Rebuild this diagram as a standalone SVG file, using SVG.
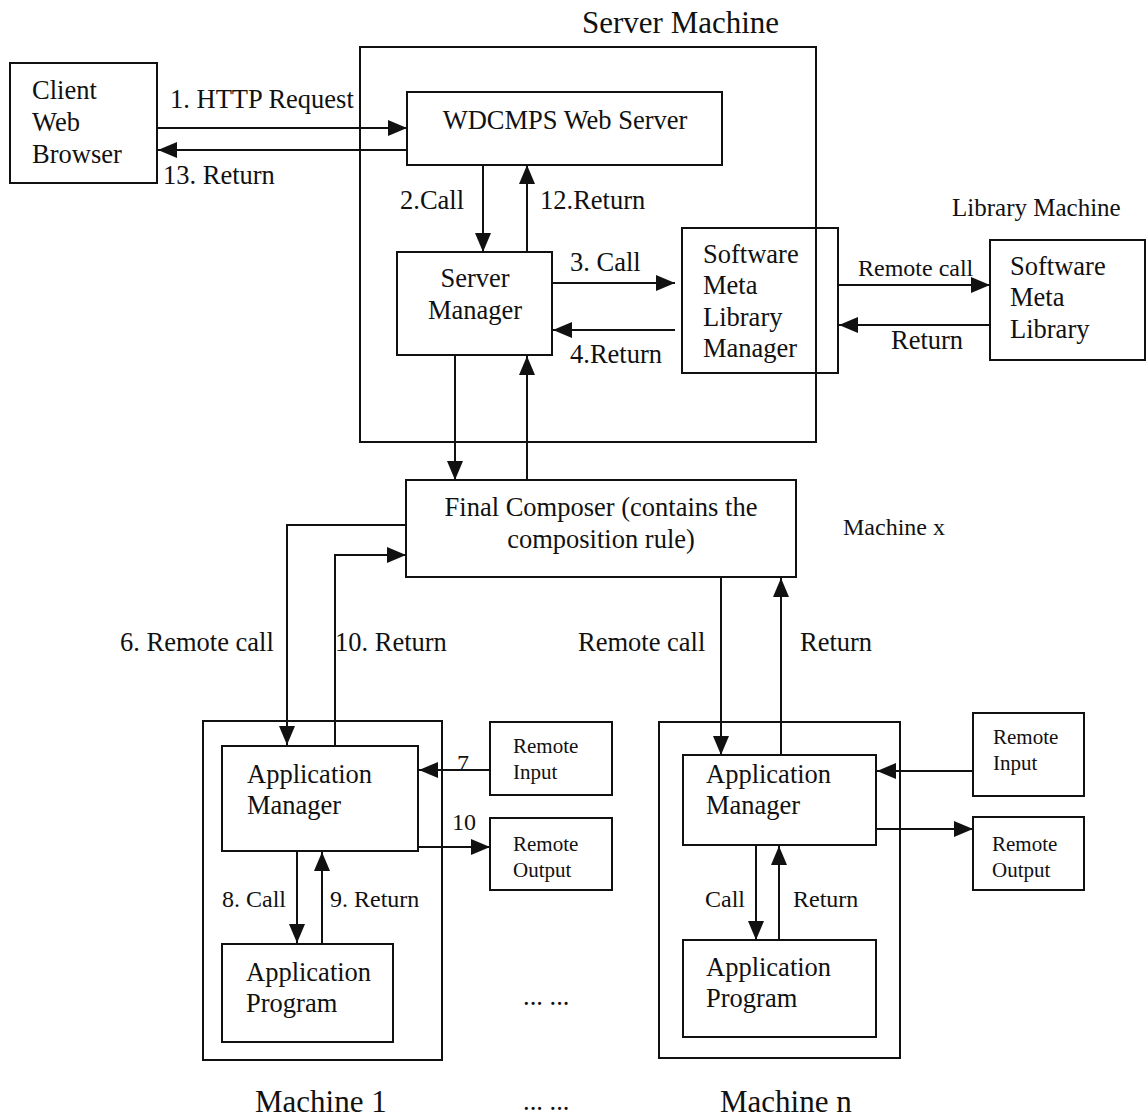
<svg xmlns="http://www.w3.org/2000/svg" width="1148" height="1120" viewBox="0 0 1148 1120">
<defs>
<style>
.box{fill:none;stroke:#111;stroke-width:2}
.c{fill:none;stroke:#111;stroke-width:2;marker-end:url(#ah)}
text{font-family:"Liberation Serif","Times New Roman",serif;fill:#111;font-size:26.5px}
.s{font-size:21px}
.m{font-size:24px}
.lm{font-size:25px}
.big{font-size:31px}
.mid{text-anchor:middle}
</style>
<marker id="ah" markerUnits="userSpaceOnUse" markerWidth="20" markerHeight="16" refX="19" refY="8" orient="auto">
<path d="M0,0 L19,8 L0,16 z" fill="#111"/>
</marker>
</defs>
<rect width="1148" height="1120" fill="#fff"/>

<g id="server-machine">
<rect class="box" x="360" y="47" width="456" height="395"/>
<text class="big" x="582" y="33">Server Machine</text>
</g>
<g id="client">
<rect class="box" x="10" y="63" width="147" height="120"/>
<text x="32" y="99">Client</text>
<text x="32" y="131">Web</text>
<text x="32" y="163">Browser</text>
</g>
<g id="web-server">
<rect class="box" x="407" y="92" width="315" height="73"/>
<text class="mid" x="565" y="129">WDCMPS Web Server</text>
</g>
<g id="server-manager">
<rect class="box" x="397" y="252" width="155" height="103"/>
<text class="mid" x="475" y="287">Server</text>
<text class="mid" x="475" y="319">Manager</text>
</g>
<g id="sml-manager">
<rect class="box" x="682" y="228" width="156" height="145"/>
<text x="703" y="263">Software</text>
<text x="703" y="294">Meta</text>
<text x="703" y="326">Library</text>
<text x="703" y="357">Manager</text>
</g>
<g id="library-machine">
<text class="lm" x="952" y="216">Library Machine</text>
<rect class="box" x="990" y="240" width="155" height="120"/>
<text x="1010" y="275">Software</text>
<text x="1010" y="306">Meta</text>
<text x="1010" y="338">Library</text>
</g>
<g id="final-composer">
<rect class="box" x="406" y="480" width="390" height="97"/>
<text class="mid" x="601" y="516">Final Composer (contains the</text>
<text class="mid" x="601" y="548">composition rule)</text>
<text class="m" x="843" y="535">Machine x</text>
</g>
<g id="machine-1">
<rect class="box" x="203" y="721" width="239" height="339"/>
<text class="big" x="255" y="1112">Machine 1</text>
</g>
<g id="app-manager-1">
<rect class="box" x="222" y="746" width="196" height="105"/>
<text x="247" y="783">Application</text>
<text x="247" y="814">Manager</text>
</g>
<g id="app-program-1">
<rect class="box" x="222" y="944" width="171" height="98"/>
<text x="246" y="981">Application</text>
<text x="246" y="1012">Program</text>
</g>
<g id="remote-input-1">
<rect class="box" x="490" y="722" width="122" height="73"/>
<text class="s" x="513" y="753">Remote</text>
<text class="s" x="513" y="779">Input</text>
</g>
<g id="remote-output-1">
<rect class="box" x="490" y="818" width="122" height="72"/>
<text class="s" x="513" y="851">Remote</text>
<text class="s" x="513" y="877">Output</text>
</g>
<g id="ellipsis">
<text x="523" y="1005">... ...</text>
<text x="523" y="1110">... ...</text>
</g>
<g id="machine-n">
<rect class="box" x="659" y="722" width="241" height="336"/>
<text class="big" x="720" y="1112">Machine n</text>
</g>
<g id="app-manager-n">
<rect class="box" x="683" y="755" width="193" height="90"/>
<text x="706" y="783">Application</text>
<text x="706" y="814">Manager</text>
</g>
<g id="app-program-n">
<rect class="box" x="683" y="940" width="193" height="97"/>
<text x="706" y="976">Application</text>
<text x="706" y="1007">Program</text>
</g>
<g id="remote-input-n">
<rect class="box" x="973" y="713" width="111" height="83"/>
<text class="s" x="993" y="744">Remote</text>
<text class="s" x="993" y="770">Input</text>
</g>
<g id="remote-output-n">
<rect class="box" x="973" y="817" width="111" height="73"/>
<text class="s" x="992" y="851">Remote</text>
<text class="s" x="992" y="877">Output</text>
</g>

<g id="connectors">
<line class="c" x1="157" y1="128" x2="407" y2="128"/>
<line class="c" x1="407" y1="150" x2="158" y2="150"/>
<line class="c" x1="483" y1="165" x2="483" y2="252"/>
<line class="c" x1="527" y1="252" x2="527" y2="165"/>
<line class="c" x1="552" y1="283" x2="675" y2="283"/>
<line class="c" x1="675" y1="330" x2="553" y2="330"/>
<line class="c" x1="838" y1="285" x2="990" y2="285"/>
<line class="c" x1="990" y1="325" x2="839" y2="325"/>
<line class="c" x1="455" y1="355" x2="455" y2="480"/>
<line class="c" x1="527" y1="480" x2="527" y2="356"/>
<polyline class="c" points="406,525 287,525 287,745"/>
<polyline class="c" points="335,746 335,555 406,555"/>
<line class="c" x1="721" y1="577" x2="721" y2="755"/>
<line class="c" x1="781" y1="755" x2="781" y2="578"/>
<line class="c" x1="490" y1="770" x2="419" y2="770"/>
<line class="c" x1="418" y1="847" x2="490" y2="847"/>
<line class="c" x1="297" y1="851" x2="297" y2="943"/>
<line class="c" x1="322" y1="944" x2="322" y2="852"/>
<line class="c" x1="973" y1="771" x2="877" y2="771"/>
<line class="c" x1="876" y1="829" x2="973" y2="829"/>
<line class="c" x1="756" y1="845" x2="756" y2="940"/>
<line class="c" x1="779" y1="940" x2="779" y2="846"/>
</g>
<g id="connector-labels">
<text x="170" y="108">1. HTTP Request</text>
<text x="163" y="184">13. Return</text>
<text x="400" y="209">2.Call</text>
<text x="540" y="209">12.Return</text>
<text x="570" y="271">3. Call</text>
<text x="570" y="363">4.Return</text>
<text class="m" x="858" y="276">Remote call</text>
<text x="891" y="349">Return</text>
<text x="120" y="651">6. Remote call</text>
<text x="335" y="651">10. Return</text>
<text x="578" y="651">Remote call</text>
<text x="800" y="651">Return</text>
<text class="m" x="457" y="771">7</text>
<text class="m" x="452" y="830">10</text>
<text class="m" x="222" y="907">8. Call</text>
<text class="m" x="330" y="907">9. Return</text>
<text class="m" x="705" y="907">Call</text>
<text class="m" x="793" y="907">Return</text>
</g>
</svg>
